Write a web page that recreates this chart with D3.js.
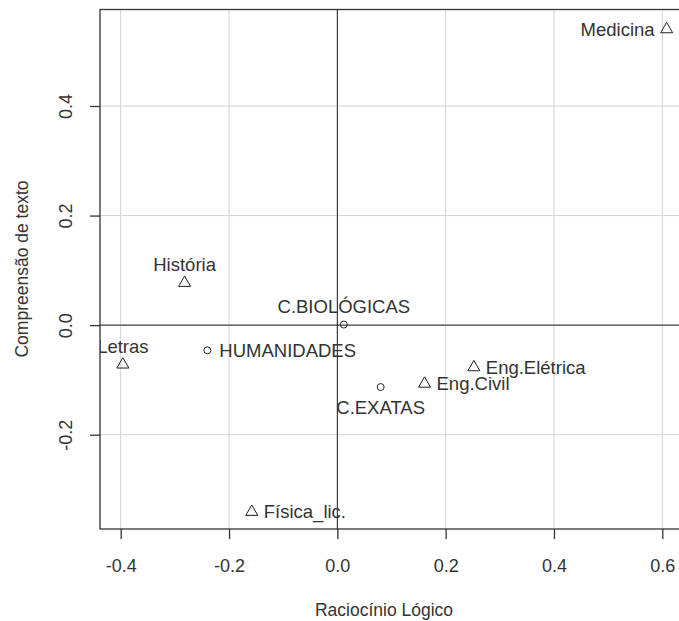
<!DOCTYPE html>
<html>
<head>
<meta charset="utf-8">
<script src="https://cdn.jsdelivr.net/npm/d3@7"></script>
<style>
  html, body { margin: 0; padding: 0; background: #fff; }
  svg { display: block; }
  text { font-family: "Liberation Sans", Arial, sans-serif; fill: #333; }
</style>
</head>
<body>
<svg id="chart" width="679" height="621"></svg>
<script>
// Courses and area groups on two ability scores
const names   = ["Medicina", "História", "C.BIOLÓGICAS", "Letras", "HUMANIDADES",
                 "C.EXATAS", "Eng.Civil", "Eng.Elétrica", "Física_lic."];
const logic   = [0.608, -0.282, 0.012, -0.396, -0.240, 0.080, 0.161, 0.252, -0.158];
const reading = [0.540, 0.077, 0.001, -0.072, -0.046, -0.113, -0.107, -0.077, -0.341];
const shapes  = ["tri", "tri", "circ", "tri", "circ", "circ", "tri", "tri", "tri"];
const sides   = ["left", "above", "above", "above", "right", "below", "right", "right", "right"];

const xTicks = [-0.4, -0.2, 0.0, 0.2, 0.4, 0.6];
const yTicks = [-0.2, 0.0, 0.2, 0.4];

const svg = d3.select("#chart");

// plot region
const pL = 100, pT = 9.5, pB = 529, pR = 700;

const x = d3.scaleLinear().domain([-0.4, 0.6]).range([120.7, 662.3]);
const y = d3.scaleLinear().domain([-0.2, 0.4]).range([434.7, 106]);

svg.append("defs").append("clipPath").attr("id", "plotClip")
  .append("rect").attr("x", pL).attr("y", pT)
  .attr("width", pR - pL).attr("height", pB - pT);

// grid
const grid = svg.append("g");
grid.selectAll(".vg").data(xTicks).join("line")
  .attr("x1", d => x(d)).attr("x2", d => x(d))
  .attr("y1", pT).attr("y2", pB)
  .attr("stroke", "#d3d3d3").attr("stroke-width", 1);
grid.selectAll(".hg").data(yTicks).join("line")
  .attr("x1", pL).attr("x2", pR)
  .attr("y1", d => y(d)).attr("y2", d => y(d))
  .attr("stroke", "#d3d3d3").attr("stroke-width", 1);

// reference lines through the origin
svg.append("line").attr("x1", x(0)).attr("x2", x(0)).attr("y1", pT).attr("y2", pB)
  .attr("stroke", "#222").attr("stroke-width", 1);
svg.append("line").attr("x1", pL).attr("x2", pR).attr("y1", y(0)).attr("y2", y(0))
  .attr("stroke", "#222").attr("stroke-width", 1);

// box
svg.append("rect").attr("x", pL).attr("y", pT)
  .attr("width", pR - pL).attr("height", pB - pT)
  .attr("fill", "none").attr("stroke", "#333").attr("stroke-width", 1.3);

const fmt = d => d.toFixed(1);

// x axis
const xAxis = svg.append("g").attr("transform", `translate(0,${pB})`)
  .call(d3.axisBottom(x).tickValues(xTicks).tickSize(10).tickPadding(20).tickFormat(fmt));
xAxis.select(".domain").remove();
xAxis.selectAll(".tick line").attr("stroke", "#333").attr("stroke-width", 1.3);
xAxis.selectAll("text").attr("font-size", 18).attr("fill", "#333")
  .attr("font-family", "Liberation Sans, Arial, sans-serif");

// y axis with rotated labels
const yAxis = svg.append("g").attr("transform", `translate(${pL},0)`)
  .call(d3.axisLeft(y).tickValues(yTicks).tickSize(10).tickFormat(fmt));
yAxis.select(".domain").remove();
yAxis.selectAll(".tick line").attr("stroke", "#333").attr("stroke-width", 1.3);
yAxis.selectAll("text")
  .attr("transform", "rotate(-90)")
  .attr("x", 0).attr("y", -28).attr("dy", 0)
  .attr("text-anchor", "middle")
  .attr("font-size", 18).attr("fill", "#333")
  .attr("font-family", "Liberation Sans, Arial, sans-serif");

// axis titles
svg.append("text").attr("x", 384).attr("y", 616).attr("text-anchor", "middle")
  .attr("font-size", 17.5).text("Raciocínio Lógico");
svg.append("text").attr("transform", "translate(28,269) rotate(-90)")
  .attr("text-anchor", "middle").attr("font-size", 17.5).text("Compreensão de texto");

// points and labels
const pts = names.map((n, i) => ({ name: n, vx: logic[i], vy: reading[i], shape: shapes[i], side: sides[i] }));
const layer = svg.append("g").attr("clip-path", "url(#plotClip)");

const tri = "M0,-6.93L6,3.46L-6,3.46Z";
layer.selectAll(".pt").data(pts).join("g")
  .attr("transform", d => `translate(${x(d.vx)},${y(d.vy)})`)
  .each(function (d) {
    const g = d3.select(this);
    if (d.shape === "tri") {
      g.append("path").attr("d", tri).attr("fill", "none").attr("stroke", "#222").attr("stroke-width", 1);
    } else {
      g.append("circle").attr("r", 3.5).attr("fill", "none").attr("stroke", "#222").attr("stroke-width", 1);
    }
  });

const place = {
  above: { dx: 0, dy: -11.5, anchor: "middle" },
  below: { dx: 0, dy: 27, anchor: "middle" },
  right: { dx: 12, dy: 6.4, anchor: "start" },
  left:  { dx: -12, dy: 6.4, anchor: "end" }
};
layer.selectAll(".lbl").data(pts).join("text")
  .attr("x", d => x(d.vx) + place[d.side].dx)
  .attr("y", d => y(d.vy) + place[d.side].dy)
  .attr("text-anchor", d => place[d.side].anchor)
  .attr("font-size", 18.5)
  .text(d => d.name);
</script>
</body>
</html>
